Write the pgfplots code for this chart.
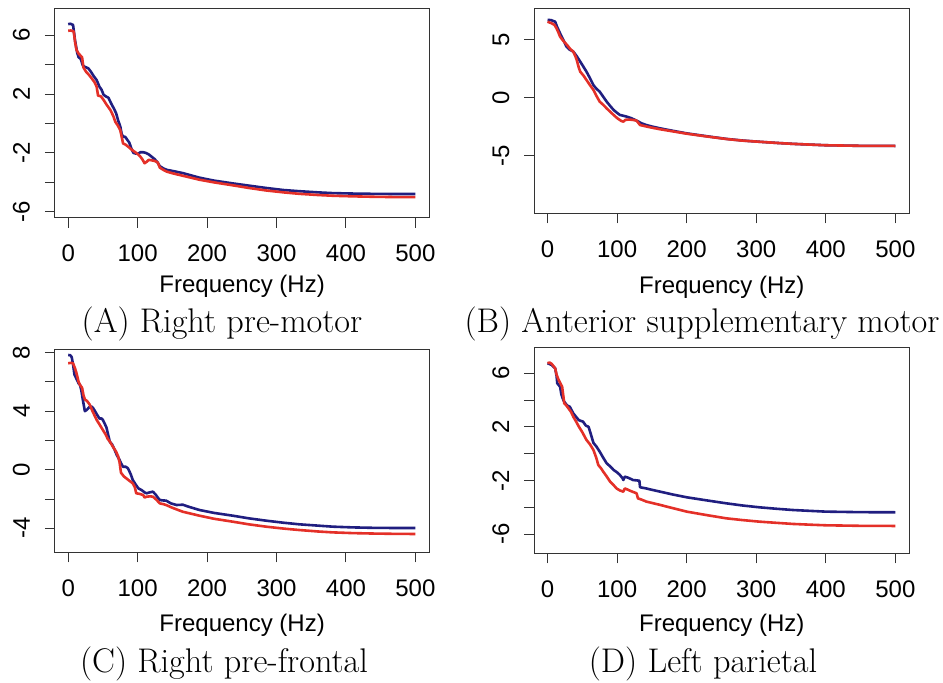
\documentclass[border=0pt]{standalone}
\usepackage{pgfplots}
\pgfplotsset{compat=1.18}
\usepackage{fontspec}
\setsansfont{Liberation Sans}
\newcommand\tickfont{\fontsize{12}{14}\selectfont\sffamily}
\newcommand\capfont{\fontsize{17.1}{20}\selectfont\rmfamily}
\definecolor{rblue}{RGB}{32,30,128}
\definecolor{rred}{RGB}{228,48,40}
\pgfplotsset{
  rpanel/.style={
    scale only axis, anchor=south west,
    xmin=-19, xmax=520,
    tick align=outside, major tick length=5pt,
    axis line style={draw=black!80, line width=0.5pt},
    every tick/.style={draw=black!80, line width=0.5pt},
    xtick={0,100,...,500},
    xtick pos=bottom, ytick pos=left,
    tick label style={font=\tickfont},
    /pgf/number format/assume math mode=true,
    yticklabel style={rotate=90, anchor=south},
    xticklabel shift=5pt, yticklabel shift=4pt,
    xlabel={Frequency (Hz)},
    label style={font=\tickfont},
    clip=false,
  },
  bl/.style={rblue, line width=1.3pt, line join=round, no markers},
  rd/.style={rred, line width=1.3pt, line join=round, no markers},
}
\begin{document}
\begin{tikzpicture}
\path[use as bounding box] (0,0) rectangle (471.5pt,341.5pt);
% (A)
\begin{axis}[rpanel, at={(27.5pt,232.65pt)}, width=187.15pt, height=104.7pt,
  ymin=-6.4, ymax=7.83, ytick={-6,-4,...,6}, yticklabels={-6,,-2,,2,,6},
  xlabel style={at={(axis description cs:0.5,0)}, anchor=center, yshift=-34.5pt}]
\addplot[bl] coordinates {(0,6.75)(3,6.78)(7,6.7)(10,5.6)(13,4.8)(15,4.5)(18,4.4)(21,3.95)(24,3.85)(29,3.75)(33,3.5)(37,3.2)(41,2.95)(45,2.5)(48,2.3)(51,1.95)(55,1.82)(58,1.75)(62,1.35)(66,1.0)(69,0.7)(72,0.2)(75,-0.2)(77,-0.7)(79,-0.9)(82,-0.9)(85,-1.1)(88,-1.3)(91,-1.7)(94,-2.0)(98,-2.05)(101,-2.05)(104,-1.95)(108,-1.95)(112,-2.0)(116,-2.1)(120,-2.25)(124,-2.4)(128,-2.6)(132,-2.9)(137,-3.05)(142,-3.15)(150,-3.22)(158,-3.3)(166,-3.38)(175,-3.5)(189,-3.68)(210,-3.88)(237,-4.07)(260,-4.22)(285,-4.38)(310,-4.52)(333,-4.6)(360,-4.68)(381,-4.73)(410,-4.76)(440,-4.78)(470,-4.79)(500,-4.79)};
\addplot[rd] coordinates {(0,6.3)(4,6.32)(8,6.25)(10,5.5)(12,5.0)(15,4.75)(18,4.6)(20,4.5)(22,3.8)(26,3.5)(30,3.3)(34,3.06)(38,2.8)(41,2.5)(43,1.9)(47,1.85)(51,1.6)(55,1.3)(58,1.1)(61,0.9)(65,0.5)(68,0.1)(71,-0.1)(75,-0.45)(77,-0.9)(79,-1.35)(83,-1.45)(87,-1.6)(92,-1.8)(98,-2.0)(103,-2.2)(107,-2.45)(110,-2.7)(113,-2.6)(116,-2.47)(120,-2.5)(125,-2.55)(129,-2.65)(132,-3.0)(137,-3.15)(142,-3.27)(150,-3.38)(165,-3.55)(189,-3.82)(210,-4.0)(237,-4.2)(260,-4.38)(285,-4.55)(310,-4.68)(333,-4.78)(360,-4.86)(381,-4.91)(410,-4.95)(440,-4.98)(470,-5.0)(500,-5.0)};
\end{axis}
% (B)
\begin{axis}[rpanel, at={(267.15pt,234.85pt)}, width=187.5pt, height=102.5pt,
  ymin=-9.98, ymax=7.74, ytick={-5,0,5},
  xlabel style={at={(axis description cs:0.5,0)}, anchor=center, yshift=-37pt}]
\addplot[bl] coordinates {(0,6.73)(5,6.72)(11,6.58)(14,6.1)(18,5.58)(22,5.1)(27,4.45)(32,4.15)(37,4.0)(42,3.6)(47,3.13)(52,2.65)(56,2.26)(61,1.7)(66,1.1)(70,0.8)(75,0.53)(80,0.1)(85,-0.33)(90,-0.7)(95,-1.05)(100,-1.3)(104,-1.48)(109,-1.55)(114,-1.63)(120,-1.75)(128,-1.97)(135,-2.2)(142,-2.35)(150,-2.48)(162,-2.64)(180,-2.85)(200,-3.07)(230,-3.33)(257,-3.55)(280,-3.69)(305,-3.8)(330,-3.9)(353,-3.98)(380,-4.05)(400,-4.1)(450,-4.15)(500,-4.16)};
\addplot[rd] coordinates {(0,6.58)(6,6.44)(10,6.3)(13,6.0)(16,5.6)(18,5.29)(23,4.9)(28,4.57)(33,4.2)(37,3.99)(40,3.6)(42,3.27)(45,2.6)(47,2.26)(52,1.9)(56,1.54)(61,1.1)(66,0.68)(70,0.2)(75,-0.33)(80,-0.6)(85,-0.91)(90,-1.2)(95,-1.48)(100,-1.75)(106,-2.0)(109,-2.06)(112,-1.9)(118,-1.88)(124,-1.92)(128,-1.97)(133,-2.35)(140,-2.45)(150,-2.58)(162,-2.72)(180,-2.9)(200,-3.1)(230,-3.35)(257,-3.56)(280,-3.7)(305,-3.8)(330,-3.9)(353,-3.98)(380,-4.05)(400,-4.1)(450,-4.15)(500,-4.16)};
\end{axis}
% (C)
\begin{axis}[rpanel, at={(27.5pt,65.35pt)}, width=187.15pt, height=101.15pt,
  ymin=-5.64, ymax=8.18, ytick={-4,-2,...,8}, yticklabels={-4,,0,,4,,8},
  xlabel style={at={(axis description cs:0.5,0)}, anchor=center, yshift=-36.5pt}]
\addplot[bl] coordinates {(0,7.84)(3,7.82)(5,7.7)(7,7.2)(9,6.5)(12,6.2)(15,5.9)(17,5.79)(19,5.4)(21,4.8)(24,4.0)(27,4.1)(29,4.2)(31,4.3)(34,4.31)(36,4.2)(38,4.05)(41,3.8)(45,3.5)(48,3.5)(50,3.4)(53,3.1)(55,2.9)(58,2.3)(60,1.9)(63,1.75)(67,1.35)(70,1.0)(74,0.67)(76,0.45)(79,0.2)(83,0.2)(86,0.1)(90,-0.3)(93,-0.7)(97,-1.0)(101,-1.27)(106,-1.4)(110,-1.55)(113,-1.61)(117,-1.55)(122,-1.5)(126,-1.7)(129,-1.9)(132,-2.07)(137,-2.1)(141,-2.11)(148,-2.3)(156,-2.41)(165,-2.39)(175,-2.55)(189,-2.75)(210,-2.95)(237,-3.14)(260,-3.32)(285,-3.48)(310,-3.62)(333,-3.73)(360,-3.82)(381,-3.89)(410,-3.94)(440,-3.97)(470,-3.98)(500,-3.98)};
\addplot[rd] coordinates {(0,7.27)(4,7.3)(7,7.27)(10,6.9)(12,6.59)(15,6.0)(17,5.79)(20,5.6)(22,5.1)(24,4.8)(27,4.7)(31,4.45)(35,4.0)(38,3.7)(41,3.4)(45,3.1)(50,2.71)(54,2.4)(57,2.1)(60,1.92)(64,1.6)(69,1.23)(72,0.9)(74,0.5)(76,-0.2)(80,-0.45)(84,-0.6)(88,-0.75)(93,-0.93)(96,-1.2)(98,-1.61)(103,-1.65)(108,-1.73)(110,-1.9)(113,-1.84)(118,-1.82)(122,-1.84)(127,-2.05)(132,-2.3)(137,-2.35)(141,-2.41)(150,-2.6)(165,-2.87)(189,-3.14)(210,-3.35)(237,-3.55)(260,-3.73)(285,-3.89)(310,-4.02)(333,-4.12)(360,-4.22)(381,-4.28)(410,-4.33)(440,-4.36)(470,-4.38)(500,-4.39)};
\end{axis}
% (D)
\begin{axis}[rpanel, at={(267.15pt,64.85pt)}, width=187.5pt, height=103pt,
  ymin=-7.44, ymax=7.94, ytick={-6,-4,...,6}, yticklabels={-6,,-2,,2,,6},
  xlabel style={at={(axis description cs:0.5,0)}, anchor=center, yshift=-36pt}]
\addplot[bl] coordinates {(0,6.75)(6,6.62)(11,6.37)(13,5.8)(14,5.25)(18,5.0)(20,4.4)(22,4.1)(24,3.88)(28,3.6)(32,3.5)(37,3.01)(41,2.75)(45,2.5)(51,2.39)(55,2.1)(59,2.0)(62,1.5)(66,0.8)(70,0.55)(75,0.15)(80,-0.3)(85,-0.72)(90,-0.95)(95,-1.22)(100,-1.4)(104,-1.59)(108,-1.85)(109,-1.97)(111,-1.72)(116,-1.8)(123,-1.97)(132,-2.02)(133,-2.51)(142,-2.6)(150,-2.7)(162,-2.84)(180,-3.05)(200,-3.26)(230,-3.5)(257,-3.71)(280,-3.87)(305,-4.01)(330,-4.12)(353,-4.21)(380,-4.28)(400,-4.33)(450,-4.37)(500,-4.38)};
\addplot[rd] coordinates {(0,6.75)(3,6.8)(6,6.7)(11,6.37)(13,5.9)(16,5.5)(18,5.3)(21,5.0)(23,4.2)(24,3.76)(27,3.6)(30,3.39)(34,3.1)(37,2.76)(41,2.4)(45,2.02)(50,1.6)(56,1.02)(61,0.7)(66,0.27)(70,-0.3)(73,-0.85)(77,-1.1)(80,-1.34)(85,-1.7)(90,-2.09)(95,-2.35)(99,-2.59)(104,-2.75)(109,-2.84)(111,-2.6)(114,-2.66)(120,-2.8)(128,-2.96)(130,-3.34)(136,-3.45)(142,-3.58)(150,-3.68)(162,-3.83)(180,-4.07)(200,-4.33)(230,-4.6)(257,-4.83)(280,-4.96)(305,-5.08)(330,-5.17)(353,-5.25)(380,-5.31)(400,-5.35)(450,-5.39)(500,-5.4)};
\end{axis}
\node[anchor=base, font=\capfont] at (111pt,175pt) {(A) Right pre-motor};
\node[anchor=base, font=\capfont] at (351pt,175pt) {(B) Anterior supplementary motor};
\node[anchor=base, font=\capfont] at (112pt,5pt) {(C) Right pre-frontal};
\node[anchor=base, font=\capfont] at (351.5pt,5pt) {(D) Left parietal};
\end{tikzpicture}
\end{document}
